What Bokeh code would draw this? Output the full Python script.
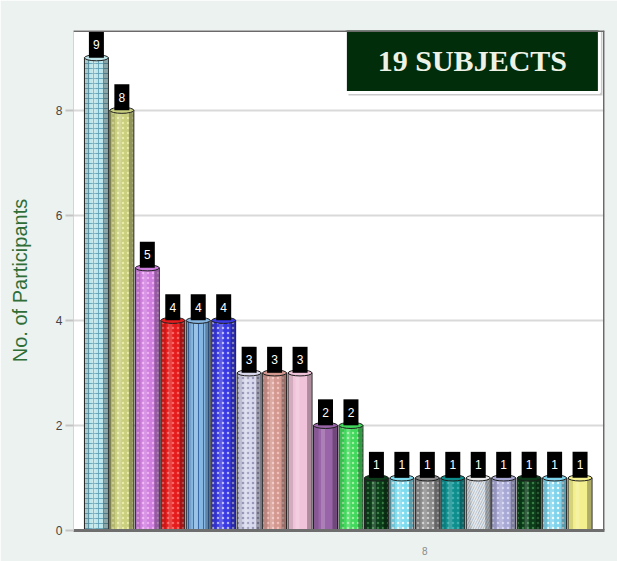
import math
from bokeh.plotting import figure
from bokeh.models import Label, Span, Range1d, FixedTicker, ColumnDataSource
from bokeh.embed import file_html
from bokeh.resources import INLINE
from bokeh.core.properties import value, field

# ---------------- data ----------------
participants = [9, 8, 5, 4, 4, 4, 3, 3, 3, 2, 2, 1, 1, 1, 1, 1, 1, 1, 1, 1]
bar_index = list(range(len(participants)))
y_ticks = [0, 2, 4, 6, 8]
title_text = "19 SUBJECTS"
y_title = "No. of Participants"
x_title = "8"

# ---------------- styles ----------------
fill_colors = ["#bfe6ea", "#c9cf7e", "#cf7fdf", "#e41c1c", "#86b6e2",
               "#3a3ae2", "#d9d9ee", "#d39890", "#f1c3da", "#9a64a8",
               "#42d85c", "#0c3c1a", "#7fdcef", "#8c8c8c", "#0f8e8e",
               "#e6e6e6", "#a9a9d6", "#0c3c1a", "#7fd4ec", "#f3ef8e"]
hatch_patterns = ["+", ".", ".", ".", "|",
                  ".", ".", ".", " ", " ",
                  ".", ".", ".", ".", ".",
                  "/", ".", ".", ".", " "]
hatch_colors = ["#5f9fb4", "#eef0b0", "#f3b6f5", "#ff7070", "#2c5c9c",
                "#c8c8ff", "#8c8cb0", "#f3c9c4", "#ffffff", "#ffffff",
                "#b0f5b0", "#3f8a4c", "#ffffff", "#d8d8d8", "#46b4b4",
                "#a0b4c8", "#dcdcf6", "#3f8a4c", "#ffffff", "#ffffff"]

src = ColumnDataSource(dict(
    x=bar_index, top=participants, fill=fill_colors,
    hatch=hatch_patterns, hcolor=hatch_colors,
    label=[str(v) for v in participants],
    label_y=[v + 0.25 for v in participants],
))

p = figure(width=617, height=561, output_backend="svg", toolbar_location=None,
           x_range=Range1d(-0.9, 19.96), y_range=Range1d(0, 9.52),
           min_border_left=73, min_border_right=13, min_border_top=30,
           min_border_bottom=31)

p.background_fill_color = "#ffffff"
p.border_fill_color = "#ecf2f0"
p.outline_line_color = None

# grid
p.xgrid.grid_line_color = None
p.ygrid.ticker = FixedTicker(ticks=y_ticks)
p.ygrid.grid_line_color = "#d9d9d9"
p.ygrid.grid_line_width = 2

# y axis
p.yaxis.ticker = FixedTicker(ticks=y_ticks)
p.yaxis.major_label_text_font = "Liberation Sans"
p.yaxis.major_label_text_font_size = "12px"
p.yaxis.major_label_text_color = "#444444"
p.yaxis.major_tick_out = 8
p.yaxis.major_tick_in = 0
p.yaxis.major_tick_line_color = "#c4c4c4"
p.yaxis.major_tick_line_width = 2
p.yaxis.minor_tick_line_color = None
p.yaxis.axis_line_color = "#d4d4d4"
p.yaxis.major_label_standoff = 3
p.yaxis.axis_label = y_title
p.yaxis.axis_label_text_font = "Liberation Sans"
p.yaxis.axis_label_text_font_style = "normal"
p.yaxis.axis_label_text_font_size = "20px"
p.yaxis.axis_label_text_color = "#2f6e37"
p.yaxis.axis_label_standoff = 22

# x axis: line plus the single small "8" caption
x_caption_pos = 12.9
p.xaxis.ticker = FixedTicker(ticks=[x_caption_pos])
p.xaxis.major_label_overrides = {x_caption_pos: x_title}
p.xaxis.major_label_text_font = "Liberation Sans"
p.xaxis.major_label_text_font_size = "10px"
p.xaxis.major_label_text_color = "#8a8a8a"
p.xaxis.major_label_standoff = 10
p.xaxis.axis_line_color = "#6e6e6e"
p.xaxis.axis_line_width = 3
p.xaxis.major_tick_line_color = None
p.xaxis.minor_tick_line_color = None

# top / right frame edges
p.add_layout(Span(location=9.52, dimension="width", line_color="#6a6a6a", line_width=3))
p.add_layout(Span(location=19.96, dimension="height", line_color="#6a6a6a", line_width=3))

# bars
p.vbar(x="x", top="top", bottom=0, width=0.94, source=src,
       fill_color="fill", line_color="#1e1e1e", line_width=1,
       hatch_pattern=field("hatch"), hatch_color="hcolor",
       hatch_scale=5, hatch_alpha=0.85, hatch_weight=1)

# cylinder shading
p.vbar(x=[i - 0.36 for i in bar_index], top=participants, width=0.17,
       fill_color="#000000", fill_alpha=0.12, line_color=None)
p.vbar(x=[i + 0.36 for i in bar_index], top=participants, width=0.17,
       fill_color="#000000", fill_alpha=0.28, line_color=None)
p.vbar(x=[i - 0.1 for i in bar_index], top=participants, width=0.16,
       fill_color="#ffffff", fill_alpha=0.18, line_color=None)

# top caps
p.ellipse(x="x", y="top", width=0.94, height=6, height_units="screen",
          source=src, fill_color="fill", line_color="#1e1e1e", line_width=1)

# value label boxes
p.rect(x="x", y="label_y", width=15, height=26, width_units="screen",
       height_units="screen", source=src, fill_color="#000000", line_color=None)
p.text(x="x", y="label_y", text="label", source=src, text_color="#ffffff",
       text_align="center", text_baseline="middle",
       text_font=value("Liberation Sans"), text_font_size="12px")

# title box
p.rect(x=[14.89], y=[8.89], width=254, height=64, width_units="screen",
       height_units="screen", fill_color="#8a8a8a", fill_alpha=0.45, line_color=None)
p.rect(x=[14.77], y=[8.95], width=254, height=64, width_units="screen",
       height_units="screen", fill_color="#012d0b", line_color="#ffffff", line_width=3)
p.add_layout(Label(x=14.77, y=8.95, text=title_text, text_align="center",
                   text_baseline="middle", text_color="#eef2e6",
                   text_font="Liberation Serif", text_font_style="bold",
                   text_font_size="30px"))

open("out.html", "w").write(file_html(p, INLINE))
